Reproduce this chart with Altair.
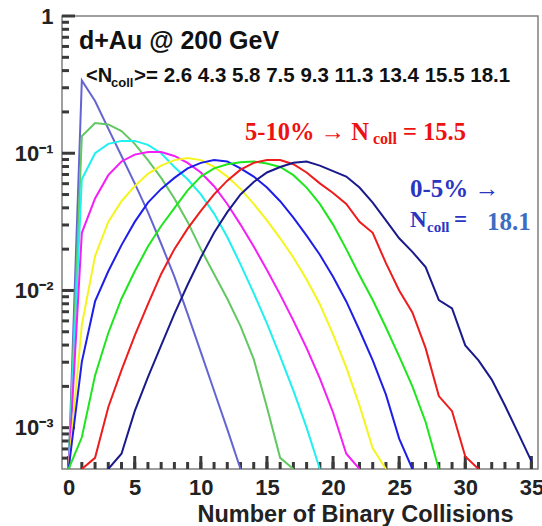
import altair as alt
import pandas as pd

# ---- data (x = number of binary collisions) ----
series_names = ["2.6", "4.3", "5.8", "7.5", "9.3", "11.3", "13.4", "15.5", "18.1"]
series_colors = ["#6464d2", "#62c862", "#1ff0f0", "#f51ef5", "#f5f51e",
                 "#1e1eeb", "#1ee61e", "#ee1c1c", "#1a1a8c"]
x_start = [0, 0, 0, 0, 0, 0, 0, 1, 3]

y_26 = [0.0005, 0.339, 0.240, 0.151, 0.0955, 0.0603, 0.0372, 0.0219, 0.0126,
        0.00676, 0.00355, 0.00186, 0.000977, 0.0005]
y_43 = [0.0005, 0.133, 0.166, 0.162, 0.145, 0.117, 0.0891, 0.0661, 0.0468,
        0.0316, 0.0200, 0.0132, 0.00871, 0.00550, 0.00316, 0.00141, 0.000603, 0.0005]
y_58 = [0.0005, 0.0646, 0.100, 0.117, 0.123, 0.123, 0.115, 0.100, 0.0794, 0.0646,
        0.0501, 0.0363, 0.0245, 0.0155, 0.00955, 0.00575, 0.00331, 0.00186, 0.001, 0.0005]
y_75 = [0.0005, 0.0263, 0.0468, 0.0692, 0.0871, 0.0977, 0.102, 0.102, 0.0955, 0.0851,
        0.0724, 0.0575, 0.0427, 0.0302, 0.0209, 0.0141, 0.00933, 0.00603, 0.0038,
        0.00229, 0.00129, 0.000646, 0.0005]
y_93 = [0.0005, 0.00562, 0.0178, 0.0316, 0.0447, 0.0575, 0.0708, 0.0813, 0.0891,
        0.0923, 0.0891, 0.0794, 0.0676, 0.0550, 0.0427, 0.0324, 0.0240, 0.0174,
        0.0120, 0.00794, 0.00479, 0.00275, 0.00145, 0.000708, 0.0005]
y_113 = [0.0005, 0.00302, 0.00832, 0.0138, 0.0214, 0.0316, 0.0437, 0.0550, 0.0661,
         0.0776, 0.0851, 0.0891, 0.0871, 0.0776, 0.0676, 0.0562, 0.0447, 0.0339,
         0.0251, 0.0182, 0.0126, 0.00832, 0.00513, 0.00309, 0.00174, 0.000832, 0.0005]
y_134 = [0.0005, 0.000851, 0.0024, 0.0049, 0.00871, 0.0138, 0.0209, 0.0295, 0.0398,
         0.0537, 0.0676, 0.0776, 0.0832, 0.0861, 0.0871, 0.0841, 0.0794, 0.0692,
         0.0562, 0.0427, 0.0302, 0.0200, 0.0129, 0.00851, 0.00537, 0.00331, 0.002,
         0.0011, 0.0005]
y_155 = [0.0005, 0.000603, 0.00141, 0.00263, 0.00468, 0.00794, 0.0132, 0.02, 0.0282,
         0.038, 0.0501, 0.0631, 0.0759, 0.0851, 0.0891, 0.0891, 0.0832, 0.0724,
         0.0603, 0.0513, 0.0427, 0.0316, 0.0263, 0.0158, 0.01, 0.00692, 0.0038,
         0.0017, 0.00132, 0.000617, 0.0005]
y_181 = [0.0005, 0.000646, 0.00132, 0.00234, 0.00398, 0.00676, 0.011, 0.0174, 0.0263,
         0.0372, 0.0501, 0.0617, 0.0724, 0.0794, 0.0851, 0.0871, 0.0813, 0.0741,
         0.0676, 0.0562, 0.0437, 0.0324, 0.024, 0.0191, 0.0148, 0.00851, 0.00741,
         0.00398, 0.00309, 0.00224, 0.00145, 0.000912, 0.00057]
all_y = [y_26, y_43, y_58, y_75, y_93, y_113, y_134, y_155, y_181]

x_major = [0, 5, 10, 15, 20, 25, 30, 35]
x_minor = list(range(0, 36))
y_major = [0.001, 0.01, 0.1, 1]
y_minor = [0.0006, 0.0007, 0.0008, 0.0009,
           0.002, 0.003, 0.004, 0.005, 0.006, 0.007, 0.008, 0.009,
           0.02, 0.03, 0.04, 0.05, 0.06, 0.07, 0.08, 0.09,
           0.2, 0.3, 0.4, 0.5, 0.6, 0.7, 0.8, 0.9]

rows = []
for name, x0, ys in zip(series_names, x_start, all_y):
    for i, v in enumerate(ys):
        rows.append({"series": name, "x": x0 + i, "y": v})
df = pd.DataFrame(rows)

W, H = 476, 453
SANS = "Liberation Sans"
SERIF = "Liberation Serif"
TICK = "#3a3a3a"
MAJ, MIN = 13, 7

xscale = alt.Scale(domain=[-0.5, 35.5], nice=False, zero=False)
yscale = alt.Scale(type="log", domain=[0.0005, 1], nice=False)

lines = alt.Chart(df).mark_line(strokeWidth=2, clip=True).encode(
    x=alt.X("x:Q", scale=xscale, axis=alt.Axis(
        orient="bottom", values=x_major, ticks=False, domain=False, grid=False,
        labelFont=SANS, labelFontSize=22, labelFontWeight="bold",
        labelColor="#222222", labelPadding=8, labelFlush=False,
        title="Number of Binary Collisions", titleFont=SANS, titleFontSize=23.5,
        titleFontWeight="bold", titleColor="#222222", titleAlign="right",
        titleAnchor="start", titleBaseline="alphabetic", titleX=451, titleY=52)),
    y=alt.Y("y:Q", scale=yscale, axis=alt.Axis(
        orient="left", values=y_major, ticks=False, domain=False, grid=False,
        labelFont=SANS, labelFontSize=22, labelFontWeight="bold",
        labelColor="#222222", labelPadding=9, labelFlush=False,
        labelExpr="datum.value >= 0.5 ? '1' : datum.value >= 0.05 ? '10\u207b\u00b9' : datum.value >= 0.005 ? '10\u207b\u00b2' : '10\u207b\u00b3'",
        title=None)),
    color=alt.Color("series:N", scale=alt.Scale(domain=series_names, range=series_colors), legend=None),
)

def xticks(vals, size):
    return alt.Chart(pd.DataFrame({"v": vals})).mark_rule(stroke=TICK, strokeWidth=3, opacity=1).encode(
        x=alt.X("v:Q", scale=xscale, axis=None), y=alt.value(H - size), y2=alt.value(H))

def yticks(vals, size):
    return alt.Chart(pd.DataFrame({"v": vals})).mark_rule(stroke=TICK, strokeWidth=3, opacity=1).encode(
        y=alt.Y("v:Q", scale=yscale, axis=None), x=alt.value(0), x2=alt.value(size))

def label(txt, x, y, size, color, font, weight="bold"):
    return alt.Chart(alt.Data(values=[{}])).mark_text(
        text=txt, align="left", baseline="alphabetic", fontSize=size, font=font,
        fontWeight=weight, color=color).encode(x=alt.value(x), y=alt.value(y))

texts = [
    label("d+Au @ 200 GeV", 17, 33, 25, "#111111", SANS),
    label("<N", 24, 66, 20, "#111111", SANS),
    label("coll", 49, 71, 13, "#111111", SANS),
    label(">= 2.6 4.3 5.8 7.5 9.3 11.3 13.4 15.5 18.1", 72, 66, 20.5, "#111111", SANS),
    label("5-10% \u2192 N", 183, 124, 24.5, "#ee1111", SERIF),
    label("coll", 311, 128, 16, "#ee1111", SERIF),
    label("= 15.5", 341, 124, 24.5, "#ee1111", SERIF),
    label("0-5% \u2192", 348, 181, 25, "#2a36c2", SERIF),
    label("N", 348, 211, 23, "#2a36c2", SERIF),
    label("coll", 365, 216, 15, "#2a36c2", SERIF),
    label("=", 392, 211, 23, "#2a36c2", SERIF),
    label("18.1", 425, 214, 25, "#3d6cc2", SERIF),
]

chart = alt.layer(
    xticks(x_minor, MIN), xticks(x_major, MAJ), yticks(y_minor, MIN), yticks(y_major, MAJ),
    lines, *texts
).resolve_axis(
    x="independent", y="independent"
).properties(
    width=W, height=H, padding={"left": 62, "top": 16, "right": 4, "bottom": 57},
    autosize=alt.AutoSizeParams(type="none"), background="white"
).configure_view(stroke="#808080", strokeWidth=1.5)

chart.save("out.html", embed_options={"renderer": "svg", "actions": False})
